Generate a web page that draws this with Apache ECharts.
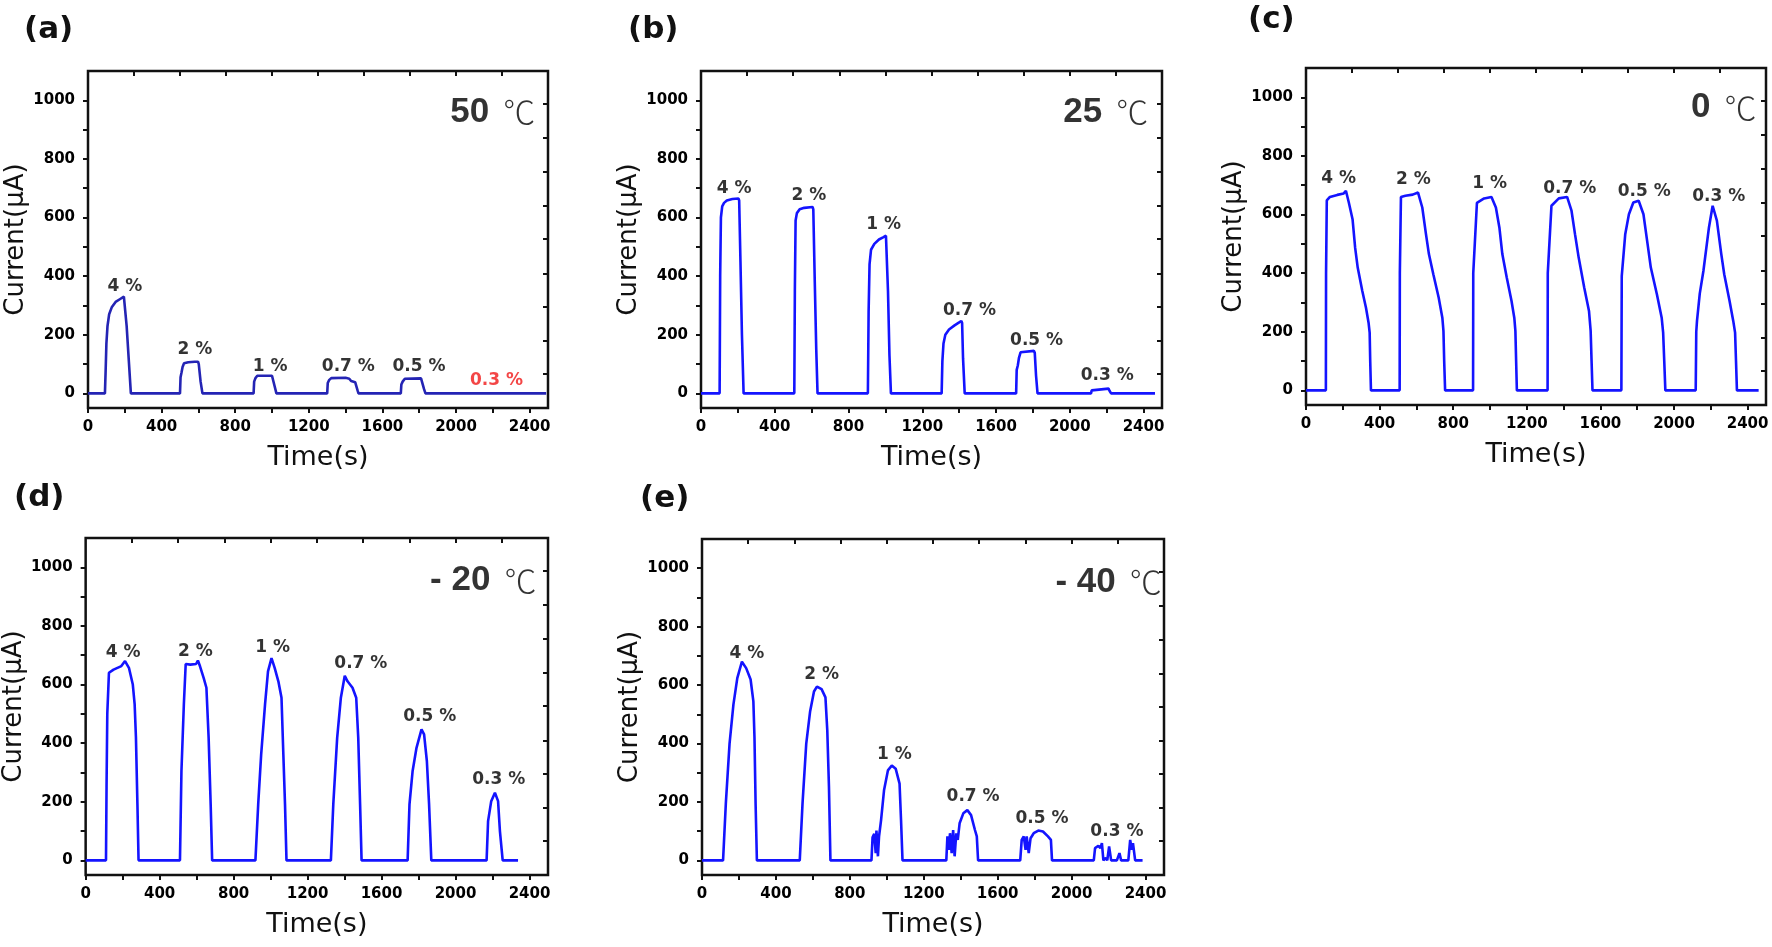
<!DOCTYPE html>
<html>
<head>
<meta charset="utf-8">
<script src="https://cdn.jsdelivr.net/npm/echarts@6/dist/echarts.min.js"></script>
<style>html,body{margin:0;padding:0;background:#fff}#c{width:1772px;height:947px}</style>
</head>
<body>
<div id="c"></div>
<script>
// ---------- tick values ----------
const xLabelValues = [0, 400, 800, 1200, 1600, 2000, 2400];
const xTickValues = [0, 200, 400, 600, 800, 1000, 1200, 1400, 1600, 1800, 2000, 2200, 2400];
const xTopTickValues = [250, 500, 750, 1000, 1250, 1500, 1750, 2000, 2250];
const yLabelValues = [0, 200, 400, 600, 800, 1000];
const yTickValues = [0, 100, 200, 300, 400, 500, 600, 700, 800, 900, 1000];
const yRightTickValues = [66, 180, 295, 409, 526, 640, 755, 872, 988];

// ---------- panel titles ----------
const panelLetters = ['(a)', '(b)', '(c)', '(d)', '(e)'];
const tempNumbers = ['50', '25', '0', '- 20', '- 40'];

// ---------- curves [time s, current uA] ----------
const curve50C = [[0,0],[92,0],[96,80],[100,170],[106,230],[115,270],[130,295],[150,312],[175,322],[195,330],[199,325],[210,230],[222,110],[233,0],
  [500,0],[503,55],[508,70],[514,90],[522,103],[545,106],[580,108],[598,108],[602,100],[612,40],[622,0],
  [900,0],[903,40],[910,52],[920,60],[1000,60],[1006,57],[1014,25],[1024,0],
  [1300,0],[1303,35],[1310,45],[1322,52],[1400,53],[1420,50],[1430,42],[1452,38],[1460,34],[1465,10],[1470,0],
  [1700,0],[1703,30],[1710,40],[1722,50],[1810,51],[1818,45],[1826,15],[1834,0],
  [2490,0]];
const curve25C = [[0,0],[101,0],[104,400],[108,600],[115,638],[125,650],[140,658],[170,663],[203,665],[207,658],[214,450],[222,200],[231,0],
  [506,0],[509,350],[513,590],[520,615],[535,628],[560,633],[605,636],[609,628],[617,380],[625,150],[632,0],
  [905,0],[909,280],[914,440],[922,490],[940,510],[965,525],[990,533],[1003,538],[1007,532],[1014,350],[1022,130],[1030,0],
  [1305,0],[1309,110],[1315,170],[1325,200],[1345,218],[1375,232],[1400,242],[1412,247],[1416,240],[1421,120],[1430,0],
  [1709,0],[1712,80],[1718,95],[1724,120],[1733,140],[1740,145],[1805,145],[1810,138],[1817,60],[1825,0],
  [2115,0],[2119,10],[2128,15],[2210,16],[2216,8],[2224,0],
  [2462,0]];
const curve0C = [[0,0],[108,0],[109,400],[113,648],[130,660],[170,667],[205,672],[217,681],[233,640],[253,584],[267,487],[281,419],[306,339],[326,282],[340,231],[346,197],[349,100],[353,0],
  [509,0],[510,400],[516,660],[540,664],[580,668],[609,675],[632,624],[652,533],[668,465],[692,396],[721,317],[741,248],[747,203],[751,100],[756,0],
  [908,0],[909,400],[929,640],[968,655],[1008,660],[1032,624],[1051,556],[1067,465],[1091,385],[1117,305],[1132,248],[1138,203],[1142,100],[1146,0],
  [1313,0],[1314,400],[1334,630],[1374,655],[1419,660],[1443,613],[1462,533],[1482,453],[1512,351],[1538,271],[1547,203],[1552,100],[1557,0],
  [1714,0],[1716,390],[1735,533],[1755,601],[1779,641],[1808,647],[1834,601],[1854,510],[1874,419],[1907,328],[1933,248],[1941,197],[1947,100],[1953,0],
  [2118,0],[2121,200],[2125,237],[2140,330],[2160,408],[2190,556],[2210,630],[2233,579],[2257,465],[2273,396],[2302,305],[2322,237],[2332,197],[2337,100],[2342,0],
  [2460,0]];
const curveM20C = [[0,0],[110,0],[113,250],[117,500],[126,640],[151,651],[193,663],[213,680],[234,657],[255,600],[265,532],[272,418],[280,191],[286,0],
  [510,0],[518,305],[531,532],[541,670],[566,668],[597,670],[607,682],[618,663],[638,623],[653,589],[665,418],[676,191],[684,0],
  [918,0],[933,191],[949,361],[970,532],[986,645],[1005,690],[1022,657],[1042,611],[1059,555],[1069,361],[1078,191],[1086,0],
  [1326,0],[1339,191],[1360,418],[1380,555],[1401,630],[1416,611],[1443,589],[1463,555],[1474,418],[1484,191],[1492,0],
  [1741,0],[1751,191],[1768,305],[1789,384],[1816,447],[1830,430],[1845,339],[1857,191],[1869,0],
  [2168,0],[2176,134],[2193,202],[2213,231],[2230,202],[2240,100],[2255,0],
  [2338,0]];
const curveM40C = [[0,0],[114,0],[129,195],[149,399],[170,533],[191,624],[216,680],[239,658],[263,619],[278,544],[284,420],[290,195],[297,0],
  [529,0],[544,195],[564,399],[585,510],[606,578],[622,595],[647,586],[668,558],[678,444],[687,252],[695,0],
  [917,0],[923,79],[932,91],[940,25],[944,102],[952,14],[958,82],[969,138],[985,240],[1006,308],[1027,325],[1048,314],[1069,263],[1077,138],[1085,0],
  [1322,0],[1328,82],[1336,36],[1342,93],[1351,25],[1359,104],[1367,14],[1376,93],[1384,70],[1394,127],[1414,161],[1436,172],[1456,155],[1477,104],[1487,82],[1494,0],
  [1722,0],[1730,70],[1741,82],[1751,36],[1757,82],[1768,25],[1778,76],[1795,93],[1820,102],[1845,99],[1872,82],[1888,70],[1894,0],
  [2120,0],[2127,42],[2137,36],[2145,50],[2156,42],[2164,59],[2172,0],[2185,8],[2193,0],[2203,48],[2214,0],[2245,0],[2259,25],[2268,0],[2307,0],[2317,70],[2326,36],[2332,59],[2344,0],
  [2384,0]];

// ---------- peak labels [time, current, text] ----------
const labels50C = [[201,364,'4 %'],[581,148,'2 %'],[990,91,'1 %'],[1415,91,'0.7 %'],[1799,91,'0.5 %'],[2220,42,'0.3 %']];
const labels25C = [[180,699,'4 %'],[585,676,'2 %'],[990,577,'1 %'],[1456,284,'0.7 %'],[1820,180,'0.5 %'],[2203,59,'0.3 %']];
const labels0C = [[178,721,'4 %'],[583,718,'2 %'],[998,706,'1 %'],[1433,690,'0.7 %'],[1838,679,'0.5 %'],[2243,661,'0.3 %']];
const labelsM20C = [[203,708,'4 %'],[593,714,'2 %'],[1011,727,'1 %'],[1488,670,'0.7 %'],[1861,492,'0.5 %'],[2234,276,'0.3 %']];
const labelsM40C = [[243,707,'4 %'],[647,635,'2 %'],[1041,363,'1 %'],[1467,218,'0.7 %'],[1840,144,'0.5 %'],[2245,99,'0.3 %']];
// temperature tag anchor [time, current]
const tempPos = [[2200,960],[2195,960],[2270,965],[2150,955],[2200,952]];

const curves = [curve50C, curve25C, curve0C, curveM20C, curveM40C];
const labelSets = [labels50C, labels25C, labels0C, labelsM20C, labelsM40C];

// ---------- layout ----------
const grids = [
  {left: 88, top: 71, width: 460, height: 337},
  {left: 701, top: 71, width: 461, height: 337},
  {left: 1306, top: 68, width: 460, height: 337},
  {left: 85, top: 538, width: 463, height: 337},
  {left: 702, top: 539, width: 462, height: 336}
];
const letterPos = [[24,14],[628,14],[1248,4],[14,482],[640,483]];
const lineColors = ['#2424b4', '#1414ff', '#1414ff', '#1414ff', '#1414ff'];

const tickFont = {fontFamily: 'DejaVu Sans', fontWeight: 'bold', fontSize: 15, color: '#000', formatter: v => String(v)};
const option = {animation: false, backgroundColor: '#fff', grid: [], xAxis: [], yAxis: [], series: [], graphic: []};

grids.forEach((g, i) => {
  option.grid.push(Object.assign({show: true, borderColor: '#111', borderWidth: 2.5, backgroundColor: 'transparent'}, g));
  option.xAxis.push({
    type: 'value', gridIndex: i, min: 0, max: 2500, position: 'bottom',
    name: 'Time(s)', nameLocation: 'middle', nameGap: 36,
    nameTextStyle: {fontFamily: 'DejaVu Sans', fontSize: 27, color: '#111'},
    axisLine: {show: false, onZero: false}, splitLine: {show: false},
    axisTick: {show: true, inside: false, length: 5, lineStyle: {color: '#111', width: 2}, customValues: xTickValues},
    axisLabel: Object.assign({show: true, margin: 12, customValues: xLabelValues}, tickFont)
  });
  option.xAxis.push({
    type: 'value', gridIndex: i, min: 0, max: 2500, position: 'top',
    axisLine: {show: false, onZero: false}, splitLine: {show: false}, axisLabel: {show: false},
    axisTick: {show: true, inside: true, length: 5, lineStyle: {color: '#111', width: 2}, customValues: xTopTickValues}
  });
  option.yAxis.push({
    type: 'value', gridIndex: i, min: -50, max: 1100, position: 'left',
    name: 'Current(μA)', nameLocation: 'middle', nameGap: 50,
    nameTextStyle: {fontFamily: 'DejaVu Sans', fontSize: 26, color: '#111'},
    axisLine: {show: false, onZero: false}, splitLine: {show: false},
    axisTick: {show: true, inside: false, length: 5, lineStyle: {color: '#111', width: 2}, customValues: yTickValues},
    axisLabel: Object.assign({show: true, margin: 13, customValues: yLabelValues}, tickFont)
  });
  option.yAxis.push({
    type: 'value', gridIndex: i, min: -50, max: 1100, position: 'right',
    axisLine: {show: false, onZero: false}, splitLine: {show: false}, axisLabel: {show: false},
    axisTick: {show: true, inside: true, length: 5, lineStyle: {color: '#111', width: 2}, customValues: yRightTickValues}
  });
  option.series.push({
    type: 'line', xAxisIndex: 2 * i, yAxisIndex: 2 * i, data: curves[i],
    showSymbol: false, symbol: 'none', clip: true,
    lineStyle: {color: lineColors[i], width: 2.6}, z: 3
  });
  option.series.push({
    type: 'scatter', xAxisIndex: 2 * i, yAxisIndex: 2 * i, symbolSize: 1, silent: true,
    itemStyle: {color: 'rgba(0,0,0,0)'},
    data: labelSets[i].map(d => ({value: [d[0], d[1]], name: d[2],
      label: (i === 0 && d[2] === '0.3 %') ? {color: '#f01818'} : undefined})),
    label: {show: true, position: 'inside', formatter: p => p.name,
      fontFamily: 'DejaVu Sans', fontWeight: 'bold', fontSize: 17, color: '#000'}, z: 4
  });
  option.series.push({
    type: 'scatter', xAxisIndex: 2 * i, yAxisIndex: 2 * i, symbolSize: 1, silent: true,
    itemStyle: {color: 'rgba(0,0,0,0)'},
    data: [{value: tempPos[i], name: tempNumbers[i]}],
    label: {show: true, position: 'inside', formatter: p => '{n|' + p.name + '}{u|℃}',
      rich: {
        n: {fontFamily: 'Liberation Sans', fontWeight: 'bold', fontSize: 35, color: '#000'},
        u: {fontFamily: 'Noto Sans CJK KR', fontWeight: 300, fontSize: 32, color: '#000', padding: [0, 0, 0, 14]}
      }}, z: 4
  });
  option.graphic.push({type: 'text', left: letterPos[i][0], top: letterPos[i][1],
    style: {text: panelLetters[i], font: 'bold 31px "DejaVu Sans"', fill: '#111'}});
});

const chart = echarts.init(document.getElementById('c'), null, {renderer: 'canvas'});
chart.setOption(option);
</script>
</body>
</html>
